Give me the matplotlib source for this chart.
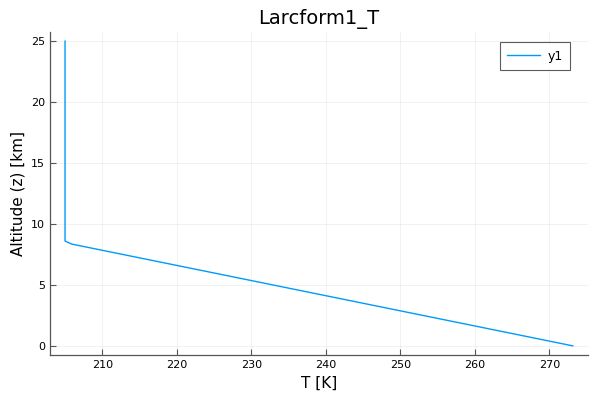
import matplotlib
matplotlib.use("Agg")
import matplotlib.pyplot as plt

# temperature profile (K) vs altitude (km)
temperature = [273.15, 205.9, 205.0, 205.0]
altitude = [0.0, 8.35, 8.6, 25.0]
xticks = [210, 220, 230, 240, 250, 260, 270]
yticks = [0, 5, 10, 15, 20, 25]

fig = plt.figure(figsize=(6, 4), dpi=100)
ax = fig.add_axes([0.083, 0.1125, 0.897, 0.8075])

ax.plot(temperature, altitude, color='#009AFA', linewidth=1, label='y1')

tmin, tmax = min(temperature), max(temperature)
pad = 0.03 * (tmax - tmin)
ax.set_xlim(tmin - pad, tmax + pad)
zmin, zmax = min(altitude), max(altitude)
pad = 0.03 * (zmax - zmin)
ax.set_ylim(zmin - pad, zmax + pad)

ax.set_xticks(xticks)
ax.set_yticks(yticks)
ax.grid(True, color='black', alpha=0.07, linewidth=0.5)
ax.tick_params(direction='in', length=4, width=0.8, labelsize=8, color='#555555')

for side in ['top', 'right']:
    ax.spines[side].set_visible(False)
for side in ['left', 'bottom']:
    ax.spines[side].set_color('#555555')
    ax.spines[side].set_linewidth(0.9)

ax.set_title("Larcform1_T", fontsize=14)
ax.set_xlabel("T [K]", fontsize=11)
ax.set_ylabel("Altitude (z) [km]", fontsize=11)

leg = ax.legend(loc='upper right', bbox_to_anchor=(0.9665, 0.969), fontsize=9,
                fancybox=False, handlelength=2.6, borderaxespad=0,
                borderpad=0.6, handletextpad=0.6)
leg.get_frame().set_edgecolor('#333333')
leg.get_frame().set_linewidth(0.8)

fig.savefig("out.png", dpi=100)
